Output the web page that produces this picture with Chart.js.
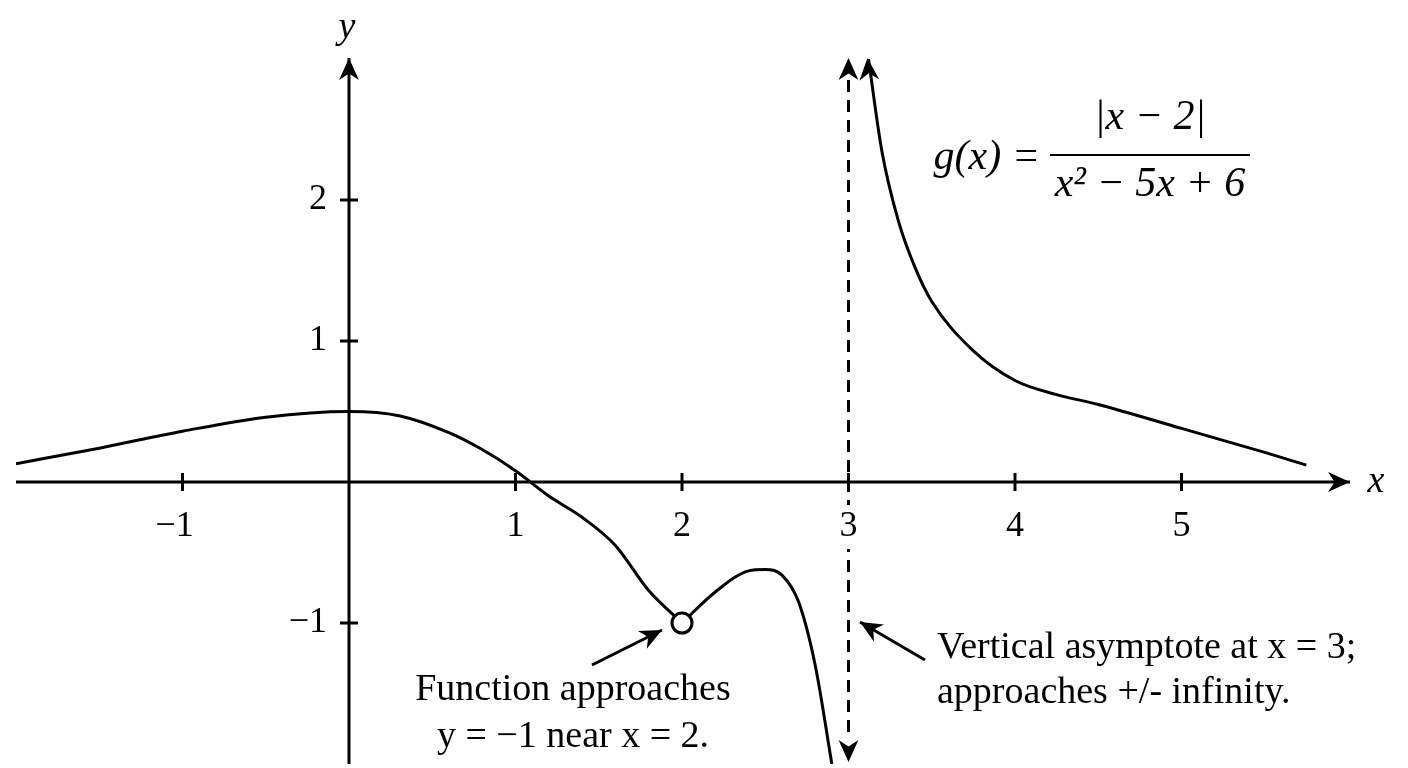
<!DOCTYPE html>
<html>
<head>
<meta charset="utf-8">
<script src="https://cdn.jsdelivr.net/npm/chart.js"></script>
<style>
  html, body { margin: 0; padding: 0; background: #fff; }
  #wrap { width: 1408px; height: 768px; }
</style>
</head>
<body>
<div id="wrap"><canvas id="graph"></canvas></div>
<script>
// curve
var leftX  = [-2, -1.5, -1, -0.5, 0, 0.3, 0.6, 0.8, 1, 1.2, 1.4, 1.6, 1.8, 2];
var leftY  = [0.13, 0.24, 0.36, 0.46, 0.5, 0.47, 0.35, 0.23, 0.08, -0.1, -0.25, -0.45, -0.77, -1];
var midX   = [2, 2.2, 2.4, 2.5, 2.6, 2.7, 2.8, 2.9];
var midY   = [-1, -0.78, -0.63, -0.62, -0.66, -0.85, -1.3, -2];
var rightX = [3.12, 3.2, 3.3, 3.4, 3.5, 3.75, 4, 4.25, 4.5, 5, 5.5, 5.75];
var rightY = [3, 2.35, 1.85, 1.52, 1.28, 0.93, 0.72, 0.62, 0.55, 0.38, 0.21, 0.12];
var xTicks = [-1, 1, 2, 3, 4, 5];
var yTicks = [-1, 1, 2];

function pts(xs, ys) {
    return xs.map(function (x, i) { return {x: x, y: ys[i]}; });
}
function line(data) {
    return { data: data, borderColor: '#000', borderWidth: 3, pointRadius: 0,
             fill: false, cubicInterpolationMode: 'monotone' };
}

function arrowHead(ctx, x, y, ang, len) {
    ctx.save();
    ctx.translate(x, y);
    ctx.rotate(ang);
    ctx.beginPath();
    ctx.moveTo(0, 0);
    ctx.lineTo(-len, -len * 0.45);
    ctx.lineTo(-len * 0.7, 0);
    ctx.lineTo(-len, len * 0.45);
    ctx.closePath();
    ctx.fill();
    ctx.restore();
}
function arrow(ctx, x1, y1, x2, y2) {
    ctx.beginPath(); ctx.moveTo(x1, y1); ctx.lineTo(x2, y2); ctx.stroke();
    arrowHead(ctx, x2, y2, Math.atan2(y2 - y1, x2 - x1), 22);
}

var axesPlugin = {
    id: 'axes',
    beforeDatasetsDraw: function (chart) {
        var ctx = chart.ctx, sx = chart.scales.x, sy = chart.scales.y;
        var x0 = sx.getPixelForValue(0), y0 = sy.getPixelForValue(0);
        ctx.save();
        ctx.strokeStyle = '#000'; ctx.fillStyle = '#000'; ctx.lineWidth = 3;
        // axes
        arrow(ctx, sx.getPixelForValue(-2), y0, 1350, y0);
        arrow(ctx, x0, sy.getPixelForValue(-2), x0, 58);
        // asymptote
        var xa = sx.getPixelForValue(3);
        ctx.setLineDash([12, 8]);
        ctx.beginPath(); ctx.moveTo(xa, 80); ctx.lineTo(xa, 740); ctx.stroke();
        ctx.setLineDash([]);
        arrowHead(ctx, xa, 58, -Math.PI / 2, 22);
        arrowHead(ctx, xa, 762, Math.PI / 2, 22);
        // ticks
        ctx.font = '36px "Liberation Serif", serif';
        ctx.textAlign = 'center'; ctx.textBaseline = 'middle';
        xTicks.forEach(function (t) {
            var px = sx.getPixelForValue(t);
            ctx.beginPath(); ctx.moveTo(px, y0 - 9); ctx.lineTo(px, y0 + 9); ctx.stroke();
            var s = t < 0 ? '\u2212' + (-t) : String(t);
            var lx = px - (t < 0 ? 8 : 0), ly = y0 + 45;
            if (t === 3) {
                ctx.fillStyle = '#fff';
                ctx.fillRect(lx - 14, ly - 22, 28, 44);
                ctx.fillStyle = '#000';
            }
            ctx.fillText(s, lx, ly);
        });
        ctx.textAlign = 'right';
        yTicks.forEach(function (t) {
            var py = sy.getPixelForValue(t);
            ctx.beginPath(); ctx.moveTo(x0 - 9, py); ctx.lineTo(x0 + 9, py); ctx.stroke();
            ctx.fillText(t < 0 ? '\u2212' + (-t) : String(t), x0 - 22, py);
        });
        // axis labels
        ctx.font = 'italic 38px "Liberation Serif", serif';
        ctx.textAlign = 'center';
        ctx.fillText('y', x0 - 2, 28);
        ctx.fillText('x', 1376, y0);
        ctx.restore();
    },
    afterDatasetsDraw: function (chart) {
        var ctx = chart.ctx, sx = chart.scales.x, sy = chart.scales.y;
        ctx.save();
        ctx.strokeStyle = '#000'; ctx.fillStyle = '#000'; ctx.lineWidth = 3;
        // arrow tip on right branch
        arrowHead(ctx, sx.getPixelForValue(rightX[0]) - 1, 58, -Math.PI / 2 - 0.08, 22);
        // hole
        ctx.beginPath();
        ctx.arc(sx.getPixelForValue(2), sy.getPixelForValue(-1), 10, 0, 2 * Math.PI);
        ctx.fillStyle = '#fff'; ctx.fill(); ctx.stroke();
        ctx.fillStyle = '#000';
        // formula
        ctx.textBaseline = 'middle';
        ctx.font = 'italic 42px "Liberation Serif", serif';
        ctx.textAlign = 'right';
        ctx.fillText('g(x) =', 1040, 158);
        ctx.textAlign = 'center';
        ctx.fillText('|x \u2212 2|', 1150, 118);
        ctx.fillText('x\u00b2 \u2212 5x + 6', 1150, 185);
        ctx.lineWidth = 2;
        ctx.beginPath(); ctx.moveTo(1050, 155); ctx.lineTo(1250, 155); ctx.stroke();
        ctx.lineWidth = 3;
        // notes
        ctx.font = '38px "Liberation Serif", serif';
        ctx.fillText('Function approaches', 573, 690);
        ctx.fillText('y = \u22121 near x = 2.', 573, 737);
        ctx.textAlign = 'left';
        ctx.fillText('Vertical asymptote at x = 3;', 937, 648);
        ctx.fillText('approaches +/- infinity.', 937, 693);
        arrow(ctx, 592, 665, 662, 630);
        arrow(ctx, 925, 660, 860, 622);
        ctx.restore();
    }
};

new Chart(document.getElementById('graph'), {
    type: 'line',
    data: { datasets: [line(pts(leftX, leftY)), line(pts(midX, midY)), line(pts(rightX, rightY))] },
    options: {
        responsive: true, maintainAspectRatio: false, animation: false,
        layout: { padding: { left: 16, right: 60, top: 59, bottom: 4 } },
        plugins: { legend: { display: false }, tooltip: { enabled: false } },
        scales: {
            x: { type: 'linear', min: -2, max: 6, display: false },
            y: { type: 'linear', min: -2, max: 3, display: false }
        }
    },
    plugins: [axesPlugin]
});
</script>
</body>
</html>
